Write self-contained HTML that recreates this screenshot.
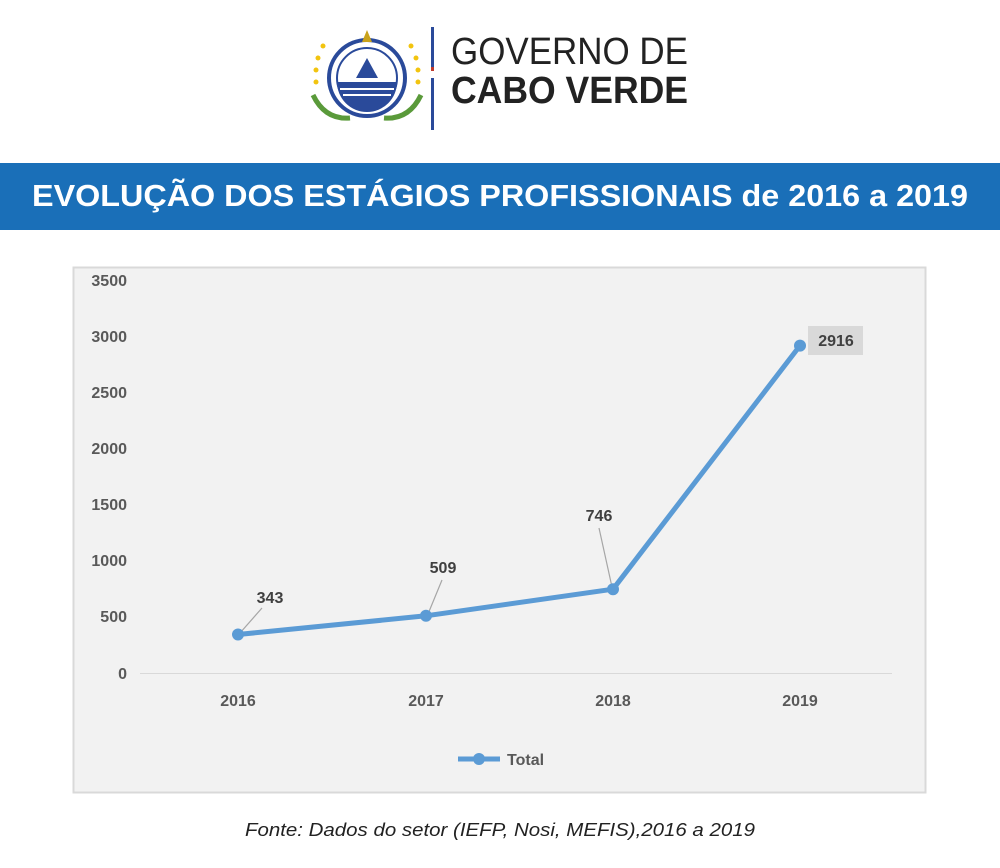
<!DOCTYPE html>
<html><head><style>
body{margin:0;width:1000px;height:868px;background:#fff;font-family:"Liberation Sans",sans-serif;position:relative;overflow:hidden}
</style></head><body>
<svg width="1000" height="868" style="position:absolute;left:0;top:0">
<g>
<circle cx="367" cy="78" r="38" fill="#fff" stroke="#2a4a9a" stroke-width="4"/>
<circle cx="367" cy="78" r="30" fill="#fff" stroke="#2a4a9a" stroke-width="2"/>
<path d="M337 82 A30 30 0 0 0 397 82 Z" fill="#2a4a9a"/>
<rect x="340" y="88" width="54" height="2" fill="#fff"/>
<rect x="343" y="94" width="48" height="2" fill="#fff"/>
<polygon points="367,58 356,78 378,78" fill="#2a4a9a"/>
<polygon points="367,30 362,42 372,42" fill="#c9a21a"/>
<g fill="#f2c40f"><circle cx="323" cy="46" r="2.5"/><circle cx="318" cy="58" r="2.5"/><circle cx="316" cy="70" r="2.5"/><circle cx="316" cy="82" r="2.5"/><circle cx="411" cy="46" r="2.5"/><circle cx="416" cy="58" r="2.5"/><circle cx="418" cy="70" r="2.5"/><circle cx="418" cy="82" r="2.5"/></g>
<path d="M313 95 Q325 120 350 118" stroke="#5a9a3a" stroke-width="5" fill="none"/>
<path d="M421 95 Q409 120 384 118" stroke="#5a9a3a" stroke-width="5" fill="none"/>
<rect x="431" y="27" width="3" height="43" fill="#2a4a9a"/>
<rect x="431" y="67" width="3" height="4" fill="#c0392b"/>
<rect x="431" y="78" width="3" height="52" fill="#2a4a9a"/>
<text x="451" y="64" font-size="38" fill="#222" textLength="237" lengthAdjust="spacingAndGlyphs">GOVERNO DE</text>
<text x="451" y="103" font-size="38" font-weight="bold" fill="#222" textLength="237" lengthAdjust="spacingAndGlyphs">CABO VERDE</text>
</g>
<rect x="0" y="163" width="1000" height="67" fill="#1a6fb8"/>
<text x="500" y="206" font-size="31" font-weight="bold" fill="#fff" text-anchor="middle" textLength="936" lengthAdjust="spacingAndGlyphs">EVOLUÇÃO DOS ESTÁGIOS PROFISSIONAIS de 2016 a 2019</text>
<rect x="73.5" y="267.5" width="852" height="525" fill="#f2f2f2" stroke="#d9d9d9" stroke-width="2"/>
<g font-size="16" font-weight="bold" fill="#595959" text-anchor="end">
<text x="127" y="286">3500</text><text x="127" y="342">3000</text><text x="127" y="398">2500</text>
<text x="127" y="454">2000</text><text x="127" y="510">1500</text><text x="127" y="566">1000</text>
<text x="127" y="622">500</text><text x="127" y="679">0</text>
</g>
<line x1="140" y1="673.5" x2="892" y2="673.5" stroke="#d9d9d9" stroke-width="1"/>
<g font-size="16" font-weight="bold" fill="#595959" text-anchor="middle">
<text x="238" y="706">2016</text><text x="426" y="706">2017</text><text x="613" y="706">2018</text><text x="800" y="706">2019</text>
</g>
<g stroke="#a6a6a6" stroke-width="1.2">
<line x1="240" y1="633" x2="262" y2="608"/>
<line x1="428" y1="614" x2="442" y2="580"/>
<line x1="612" y1="587" x2="599" y2="528"/>
</g>
<polyline points="238,634.5 426,615.8 613,589.2 800,345.6" fill="none" stroke="#5b9bd5" stroke-width="5" stroke-linejoin="round" stroke-linecap="round"/>
<g fill="#5b9bd5"><circle cx="238" cy="634.5" r="6"/><circle cx="426" cy="615.8" r="6"/><circle cx="613" cy="589.2" r="6"/><circle cx="800" cy="345.6" r="6"/></g>
<g font-size="16" font-weight="bold" fill="#404040" text-anchor="middle">
<text x="270" y="603">343</text><text x="443" y="573">509</text><text x="599" y="521">746</text>
<rect x="808" y="326" width="55" height="29" fill="#d9d9d9"/>
<text x="836" y="346">2916</text>
</g>
<line x1="458" y1="759" x2="500" y2="759" stroke="#5b9bd5" stroke-width="5"/>
<circle cx="479" cy="759" r="6" fill="#5b9bd5"/>
<text x="507" y="765" font-size="16" font-weight="bold" fill="#595959">Total</text>
<text x="500" y="836" font-size="18" font-style="italic" fill="#222" text-anchor="middle" textLength="510" lengthAdjust="spacingAndGlyphs">Fonte: Dados do setor (IEFP, Nosi, MEFIS),2016 a 2019</text>
</svg>
</body></html>
